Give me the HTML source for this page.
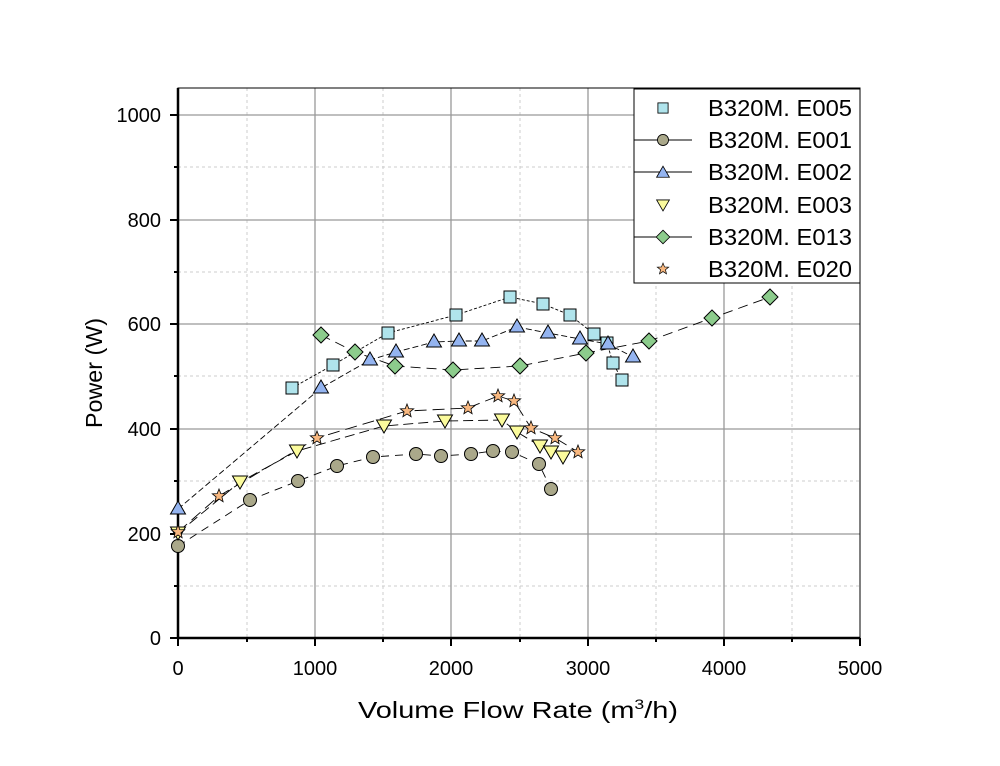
<!DOCTYPE html>
<html><head><meta charset="utf-8"><style>body{margin:0;background:#fff}svg{display:block}</style></head><body>
<svg width="1000" height="766" xmlns="http://www.w3.org/2000/svg" font-family="Liberation Sans, sans-serif">
<rect width="1000" height="766" fill="#fff"/>
<g stroke="#ccc" stroke-dasharray="3,3" stroke-width="1">
<line x1="247" y1="88" x2="247" y2="638"/><line x1="383" y1="88" x2="383" y2="638"/><line x1="520" y1="88" x2="520" y2="638"/><line x1="656" y1="88" x2="656" y2="638"/><line x1="792" y1="88" x2="792" y2="638"/>
<line x1="178" y1="167" x2="860" y2="167"/><line x1="178" y1="272" x2="860" y2="272"/><line x1="178" y1="376" x2="860" y2="376"/><line x1="178" y1="481" x2="860" y2="481"/><line x1="178" y1="586" x2="860" y2="586"/>
</g>
<g stroke="#999" stroke-width="1.3">
<line x1="315" y1="88" x2="315" y2="638"/><line x1="451" y1="88" x2="451" y2="638"/><line x1="588" y1="88" x2="588" y2="638"/><line x1="724" y1="88" x2="724" y2="638"/>
<line x1="178" y1="115" x2="860" y2="115"/><line x1="178" y1="220" x2="860" y2="220"/><line x1="178" y1="324" x2="860" y2="324"/><line x1="178" y1="429" x2="860" y2="429"/><line x1="178" y1="534" x2="860" y2="534"/>
</g>
<rect x="178" y="88" width="682" height="550" fill="none" stroke="#000" stroke-width="1"/>
<line x1="178" y1="88" x2="178" y2="639" stroke="#000" stroke-width="2.5"/>
<line x1="177" y1="638" x2="860" y2="638" stroke="#000" stroke-width="2.5"/>
<g stroke="#000" stroke-width="2">
<line x1="170" y1="115" x2="178" y2="115"/><line x1="170" y1="220" x2="178" y2="220"/><line x1="170" y1="324" x2="178" y2="324"/><line x1="170" y1="429" x2="178" y2="429"/><line x1="170" y1="534" x2="178" y2="534"/><line x1="170" y1="638" x2="178" y2="638"/>
<line x1="174" y1="167" x2="178" y2="167"/><line x1="174" y1="272" x2="178" y2="272"/><line x1="174" y1="376" x2="178" y2="376"/><line x1="174" y1="481" x2="178" y2="481"/><line x1="174" y1="586" x2="178" y2="586"/>
<line x1="178" y1="638" x2="178" y2="646"/><line x1="315" y1="638" x2="315" y2="646"/><line x1="451" y1="638" x2="451" y2="646"/><line x1="588" y1="638" x2="588" y2="646"/><line x1="724" y1="638" x2="724" y2="646"/><line x1="860" y1="638" x2="860" y2="646"/>
<line x1="247" y1="638" x2="247" y2="642"/><line x1="383" y1="638" x2="383" y2="642"/><line x1="520" y1="638" x2="520" y2="642"/><line x1="656" y1="638" x2="656" y2="642"/><line x1="792" y1="638" x2="792" y2="642"/>
</g>
<g font-size="20" fill="#000" text-anchor="end">
<text x="161" y="122">1000</text><text x="161" y="227">800</text><text x="161" y="331">600</text><text x="161" y="436">400</text><text x="161" y="541">200</text><text x="161" y="645">0</text>
</g>
<g font-size="20" fill="#000" text-anchor="middle">
<text x="178" y="675">0</text><text x="315" y="675">1000</text><text x="451" y="675">2000</text><text x="588" y="675">3000</text><text x="724" y="675">4000</text><text x="860" y="675">5000</text>
</g>
<text x="358" y="718" font-size="23" textLength="320" lengthAdjust="spacingAndGlyphs">Volume Flow Rate (m<tspan font-size="14" dy="-9">3</tspan><tspan dy="9">/h)</tspan></text>
<text transform="translate(102,428) rotate(-90)" font-size="23" textLength="110" lengthAdjust="spacingAndGlyphs">Power (W)</text>
<defs>
<rect id="sq" x="-6" y="-6" width="12" height="12" fill="#b0e4ec" stroke="#000"/>
<circle id="ci" r="6.5" fill="#aaa88a" stroke="#000"/>
<polygon id="tu" points="0,-8 7.5,5 -7.5,5" fill="#94b4f0" stroke="#000"/>
<polygon id="td" points="0,7 7.5,-6 -7.5,-6" fill="#fbfb9c" stroke="#000"/>
<polygon id="di" points="0,-8 8,0 0,8 -8,0" fill="#8ccc8c" stroke="#000"/>
<polygon id="st" points="0,-7 1.8,-2.4 6.7,-2.2 2.9,0.9 4.1,5.7 0,3 -4.1,5.7 -2.9,0.9 -6.7,-2.2 -1.8,-2.4" fill="#f8b880" stroke="#000" stroke-width="0.8"/>
</defs>
<g fill="none" stroke="#000" stroke-width="0.9">
<polyline stroke-dasharray="3,2" points="292,388 333,365 388,333 456,315 510,297 543,304 570,315 594,334 607,343 613,363 622,380"/>
<polyline stroke-dasharray="8,6" points="178,546 250,500 298,481 337,466 373,457 416,454 441,456 471,454 493,451 512,452 539,464 551,489"/>
<polyline stroke-dasharray="6,3" points="178,509 321,388 370,360 396,352 434,342 459,341 482,341 517,327 548,333 580,339 608,344 633,357"/>
<polyline stroke-dasharray="10,5" points="178,533 240,482 297,451 384,426 445,421 502,420 517,432 540,446 551,452 563,457"/>
<polyline stroke-dasharray="12,6" points="178,532 219,496 317,438 407,411 468,408 498,396 514,401 531,428 555,438 578,452"/>
<polyline stroke-dasharray="10,6" points="321,335 355,352 395,366 453,370 520,366 586,353 649,341 712,318 770,297"/>
</g>
<g>
<use href="#ci" x="178" y="546"/><use href="#ci" x="250" y="500"/><use href="#ci" x="298" y="481"/><use href="#ci" x="337" y="466"/><use href="#ci" x="373" y="457"/><use href="#ci" x="416" y="454"/><use href="#ci" x="441" y="456"/><use href="#ci" x="471" y="454"/><use href="#ci" x="493" y="451"/><use href="#ci" x="512" y="452"/><use href="#ci" x="539" y="464"/><use href="#ci" x="551" y="489"/>
<use href="#di" x="321" y="335"/><use href="#di" x="355" y="352"/><use href="#di" x="395" y="366"/><use href="#di" x="453" y="370"/><use href="#di" x="520" y="366"/><use href="#di" x="586" y="353"/><use href="#di" x="649" y="341"/><use href="#di" x="712" y="318"/><use href="#di" x="770" y="297"/>
<use href="#sq" x="292" y="388"/><use href="#sq" x="333" y="365"/><use href="#sq" x="388" y="333"/><use href="#sq" x="456" y="315"/><use href="#sq" x="510" y="297"/><use href="#sq" x="543" y="304"/><use href="#sq" x="570" y="315"/><use href="#sq" x="594" y="334"/><use href="#sq" x="607" y="343"/><use href="#sq" x="613" y="363"/><use href="#sq" x="622" y="380"/>
<use href="#tu" x="178" y="509"/><use href="#tu" x="321" y="388"/><use href="#tu" x="370" y="360"/><use href="#tu" x="396" y="352"/><use href="#tu" x="434" y="342"/><use href="#tu" x="459" y="341"/><use href="#tu" x="482" y="341"/><use href="#tu" x="517" y="327"/><use href="#tu" x="548" y="333"/><use href="#tu" x="580" y="339"/><use href="#tu" x="608" y="344"/><use href="#tu" x="633" y="357"/>
<use href="#td" x="178" y="533"/><use href="#td" x="240" y="482"/><use href="#td" x="297" y="451"/><use href="#td" x="384" y="426"/><use href="#td" x="445" y="421"/><use href="#td" x="502" y="420"/><use href="#td" x="517" y="432"/><use href="#td" x="540" y="446"/><use href="#td" x="551" y="452"/><use href="#td" x="563" y="457"/>
<use href="#st" x="178" y="532"/><use href="#st" x="219" y="496"/><use href="#st" x="317" y="438"/><use href="#st" x="407" y="411"/><use href="#st" x="468" y="408"/><use href="#st" x="498" y="396"/><use href="#st" x="514" y="401"/><use href="#st" x="531" y="428"/><use href="#st" x="555" y="438"/><use href="#st" x="578" y="452"/>
</g>
<rect x="634" y="89" width="226" height="194" fill="#fff" stroke="#000" stroke-width="1"/>
<line x1="634" y1="140" x2="692" y2="140" stroke="#000" stroke-width="0.9"/>
<line x1="634" y1="172" x2="692" y2="172" stroke="#000" stroke-width="0.9"/>
<line x1="634" y1="237" x2="692" y2="237" stroke="#000" stroke-width="0.9"/>
<g transform="translate(663,108) scale(0.85)"><use href="#sq"/></g>
<g transform="translate(663,140) scale(0.85)"><use href="#ci"/></g>
<g transform="translate(663,173) scale(0.85)"><use href="#tu"/></g>
<g transform="translate(663,205) scale(0.85)"><use href="#td"/></g>
<g transform="translate(663,237) scale(0.85)"><use href="#di"/></g>
<g transform="translate(663,269) scale(0.85)"><use href="#st"/></g>
<g font-size="23" fill="#000">
<text x="708" y="116" textLength="144" lengthAdjust="spacingAndGlyphs">B320M. E005</text>
<text x="708" y="148" textLength="144" lengthAdjust="spacingAndGlyphs">B320M. E001</text>
<text x="708" y="180" textLength="144" lengthAdjust="spacingAndGlyphs">B320M. E002</text>
<text x="708" y="213" textLength="144" lengthAdjust="spacingAndGlyphs">B320M. E003</text>
<text x="708" y="245" textLength="144" lengthAdjust="spacingAndGlyphs">B320M. E013</text>
<text x="708" y="277" textLength="144" lengthAdjust="spacingAndGlyphs">B320M. E020</text>
</g>
</svg>
</body></html>
